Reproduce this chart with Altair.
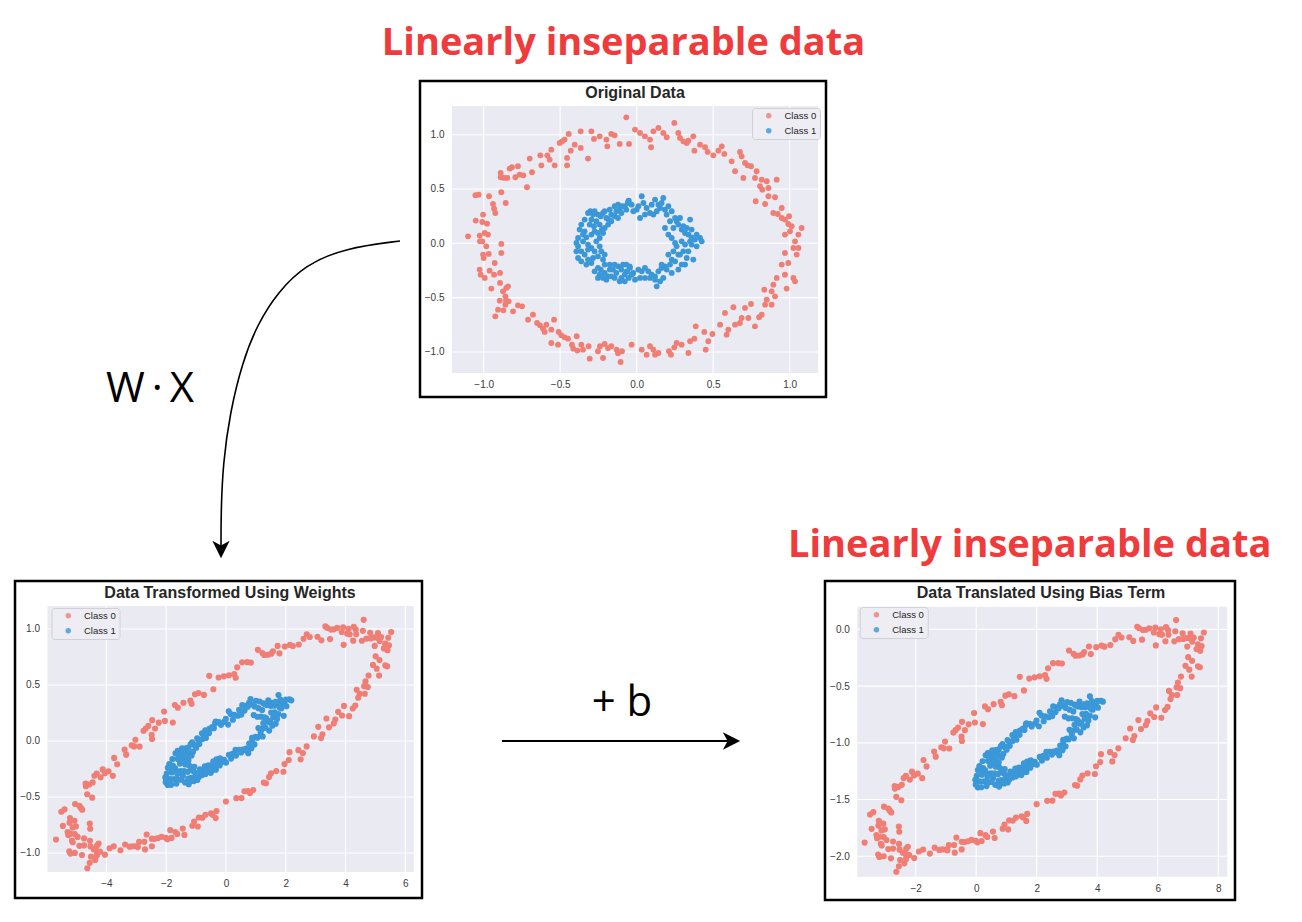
import altair as alt
import pandas as pd

# ---------------- data (original 2-D points) ----------------
OUTER_X = [-0.068, -0.111, -0.166, -0.144, -0.198, -0.192, -0.279, -0.296, -0.366, -0.444,
           -0.471, -0.488, -0.503, -0.366, -0.431, -0.318, -0.455, -0.455, -0.536, -0.569,
           -0.584, -0.630, -0.623, -0.699, -0.684, -0.717, -0.741, -0.765, -0.793, -0.815,
           -0.830, -0.845, -0.867, -0.889, -0.889, -0.885, -0.856, -0.965, -1.033, -1.054,
           -0.939, -0.932, -0.924, -1.052, -1.004, -1.009, -0.978, -1.102, -1.026, -0.993,
           -1.009, -1.024, -0.885, -1.004, -0.967, -1.000, -0.885, -1.026, -1.020, -0.961,
           -0.932, -0.950, -0.893, -0.893, -0.852, -0.841, -0.858, -0.854, -0.858, -0.837,
           -0.895, -0.906, -0.871, -0.924, -0.776, -0.749, -0.678, -0.651, -0.632, -0.590,
           -0.612, -0.601, -0.558, -0.540, -0.558, -0.510, -0.492, -0.471, -0.449, -0.392,
           -0.423, -0.414, -0.388, -0.362, -0.351, -0.314, -0.307, -0.240, -0.209, -0.187,
           -0.166, -0.131, -0.122, -0.105, -0.096,
           -0.011, 0.022, 0.054, 0.087, 0.094, 0.109, 0.142, -0.050, 0.196, 0.246,
           0.272, 0.283, 0.305, 0.327, 0.338, 0.370, 0.377, 0.447, 0.464, 0.501,
           0.534, 0.556, 0.573, 0.675, 0.686, 0.708, 0.725, 0.747, 0.784, 0.643,
           0.697, 0.773, 0.817, 0.850, 0.915, 0.806, 0.821, 0.861, 0.904, 0.778,
           0.839, 0.893, 0.922, 0.948, 0.948, 0.969, 0.991, 1.013, 0.996, 1.078,
           1.002, 1.035, 1.024, 1.057, 1.046, 0.969, 0.948, 0.991, 1.024, 1.035,
           0.980, 0.915, 0.893, 0.882, 0.904, 0.834, 0.850, 0.839, 0.817, 0.800,
           0.747, 0.773, 0.708, 0.686, 0.675, 0.643, 0.632, 0.577, 0.588, 0.599,
           0.545, 0.495, 0.442, 0.386, 0.377, 0.349, 0.451, 0.338, 0.261, 0.246,
           0.224, 0.211, 0.142, 0.120, 0.109, 0.087, 0.065, -0.033,
           -0.972, -0.983, -0.928, -0.993, -0.874, -0.808, -0.710, -0.514, -0.253, -0.220,
           -0.776, -0.558, -0.405, -0.242,
           0.174, 0.414, 0.621, 0.861, 0.969, 1.057, 0.969, 0.882, 0.730, 0.468,
           0.294, 0.033]
OUTER_Y = [1.160, 0.915, 1.007, 0.994, 0.955, 0.893, 0.961, 1.031, 1.031, 1.007,
           0.955, 0.939, 0.924, 0.878, 0.853, 0.780, 0.786, 0.718, 0.718, 0.770,
           0.810, 0.810, 0.718, 0.780, 0.654, 0.516, 0.626, 0.632, 0.608, 0.700,
           0.688, 0.602, 0.602, 0.648, 0.608, 0.470, 0.371, 0.433, 0.448, 0.442,
           0.362, 0.319, 0.279, 0.209, 0.264, 0.196, 0.181, 0.064, 0.071, 0.095,
           0.018, 0.018, -0.006, -0.104, -0.098, -0.135, -0.089, -0.242, -0.289, -0.252,
           -0.289, -0.417, -0.273, -0.365, -0.411, -0.396, -0.488, -0.528, -0.565, -0.534,
           -0.528, -0.611, -0.617, -0.672, -0.571, -0.580, -0.657, -0.734, -0.755, -0.749,
           -0.786, -0.816, -0.795, -0.703, -0.918, -0.816, -0.847, -0.866, -0.878, -0.856,
           -0.933, -0.970, -0.988, -0.933, -0.979, -0.948, -1.062, -0.948, -0.927, -0.964,
           -0.948, -0.979, -1.013, -1.093, -0.994,
           1.047, 1.016, 0.985, 0.955, 0.884, 1.031, 1.062, 0.915, 0.976, 1.108,
           1.016, 0.970, 0.939, 0.924, 0.945, 0.985, 0.853, 0.884, 0.841, 0.810,
           0.853, 0.893, 0.823, 0.841, 0.801, 0.740, 0.718, 0.709, 0.663, 0.663,
           0.602, 0.602, 0.586, 0.571, 0.586, 0.525, 0.494, 0.433, 0.424, 0.387,
           0.362, 0.279, 0.270, 0.325, 0.233, 0.218, 0.178, 0.157, 0.249, 0.141,
           0.110, 0.018, -0.043, -0.043, -0.104, -0.089, -0.196, -0.181, -0.319, -0.350,
           -0.417, -0.319, -0.381, -0.442, -0.488, -0.427, -0.519, -0.565, -0.657, -0.681,
           -0.559, -0.764, -0.595, -0.688, -0.734, -0.749, -0.589, -0.641, -0.841, -0.795,
           -0.749, -0.835, -0.816, -0.764, -0.878, -0.902, -0.979, -1.010, -0.918, -0.958,
           -1.025, -0.994, -1.010, -1.025, -0.979, -0.948, -1.025, -0.933,
           0.080, -0.028, -0.181, -0.319, -0.442, -0.626, -0.703, -0.933, -0.994, -1.056,
           0.709, 0.862, 0.908, 0.985,
           1.016, 0.908, 0.755, 0.509, 0.080, 0.080, -0.289, -0.565, -0.688, -0.902,
           -0.933, -0.979]

INNER_X = [-0.303, -0.318, -0.285, -0.253, -0.235, -0.220, -0.198, -0.166, -0.133, -0.111,
           -0.096, -0.078, -0.057, -0.052, -0.242, -0.264, -0.279, -0.307, -0.340, -0.351,
           -0.329, -0.296, -0.275, -0.253, -0.227, -0.209, -0.187, -0.166, -0.144, -0.122,
           -0.100, -0.394, -0.383, -0.362, -0.383, -0.340, -0.318, -0.296, -0.275, -0.253,
           -0.296, -0.318, -0.242, -0.264, -0.231, -0.220, -0.209, -0.176, -0.155, -0.133,
           -0.122, -0.100, -0.078, -0.061, -0.166, -0.144, -0.111, -0.187, -0.235, -0.253,
           -0.275, -0.209, -0.242, -0.220, -0.100, -0.068, -0.046, -0.242, -0.220,
           -0.054, -0.033, 0.000, 0.033, 0.044, 0.022, 0.054, 0.087, 0.109, 0.131,
           0.142, 0.153, 0.163, 0.185, 0.196, 0.218, 0.251, 0.272, 0.294, 0.316,
           0.338, 0.359, 0.381, 0.414, 0.425, 0.349, 0.305, 0.240, 0.185, 0.207,
           0.229, 0.251, 0.261, 0.240, 0.207, 0.229, 0.272, 0.305, 0.316, 0.294,
           0.251, 0.218, 0.185, 0.163, 0.142, 0.120, 0.098, 0.076, 0.054, 0.033,
           0.011, -0.022, -0.044, -0.065, 0.120, 0.087, 0.131, 0.163, 0.370, 0.338,
           0.359, 0.392,
           -0.362, -0.373, -0.340, -0.296, -0.275, -0.209, -0.176, -0.144, -0.122, -0.068,
           -0.183, -0.383, -0.351, -0.318, -0.394, -0.362, -0.329, -0.285, -0.253, -0.198,
           -0.176, -0.144, -0.089, -0.078, -0.052, -0.209,
           -0.022, 0.011, 0.065, 0.098, 0.120, 0.174, 0.207, 0.229, 0.261, 0.283,
           0.327, 0.359, 0.392, 0.349, 0.294, 0.283, 0.327, 0.316, 0.272, 0.229,
           0.196, 0.174, 0.153, 0.054, 0.022, -0.011, -0.033]
INNER_Y = [0.295, 0.279, 0.264, 0.264, 0.249, 0.279, 0.233, 0.264, 0.295, 0.310,
           0.341, 0.341, 0.371, 0.393, 0.172, 0.203, 0.157, 0.172, 0.110, 0.080,
           0.055, 0.080, 0.110, 0.095, 0.126, 0.141, 0.172, 0.203, 0.249, 0.233,
           0.279, 0.003, -0.028, -0.074, -0.135, -0.104, -0.150, -0.181, -0.074, -0.120,
           -0.043, -0.012, -0.028, 0.018, -0.074, -0.150, -0.196, -0.196, -0.242, -0.273,
           -0.212, -0.242, -0.289, -0.258, -0.304, -0.319, -0.350, -0.304, -0.242, -0.227,
           -0.258, -0.273, -0.289, -0.319, -0.319, -0.196, -0.212, 0.049, 0.095,
           0.387, 0.356, 0.310, 0.433, 0.371, 0.233, 0.264, 0.279, 0.264, 0.295,
           0.356, 0.325, 0.371, 0.310, 0.264, 0.203, 0.233, 0.172, 0.126, 0.095,
           0.080, 0.055, 0.034, 0.049, 0.018, 0.218, 0.157, 0.141, 0.141, 0.080,
           0.049, 0.003, -0.028, -0.074, -0.104, -0.150, -0.104, -0.074, -0.012, -0.196,
           -0.166, -0.196, -0.212, -0.227, -0.258, -0.304, -0.289, -0.258, -0.227, -0.258,
           -0.242, -0.273, -0.227, -0.258, -0.335, -0.319, -0.396, -0.196, -0.150, -0.074,
           -0.012, -0.028,
           0.172, 0.126, 0.218, 0.218, 0.295, 0.295, 0.310, 0.341, 0.356, 0.310,
           0.218, 0.049, 0.018, -0.058, -0.074, -0.166, -0.196, -0.135, -0.319, -0.335,
           -0.242, -0.196, -0.196, -0.350, -0.319, -0.104,
           0.295, 0.341, 0.325, 0.356, 0.402, 0.417, 0.341, 0.295, 0.203, 0.233,
           0.141, 0.126, 0.080, 0.018, 0.018, -0.104, -0.135, -0.196, -0.242, -0.273,
           -0.242, -0.319, -0.350, -0.319, -0.319, -0.335, -0.289]

CLASSES = ["Class 0", "Class 1"]
CLASS_COLORS = ["#F07E74", "#3A97D8"]

# weights and bias estimated from the transformed panels
W = [[5.15, -0.18], [0.83, 0.55]]
B = [2.0, -1.0]

# ---------------- layout (page pixel coordinates) ----------------
PAGE_W, PAGE_H = 1286, 906
OFF = 8

PANELS = [
    dict(title="Original Data", frame=(420, 81, 826, 397), plot=(452, 106, 818, 373),
         xdom=(-1.207, 1.185), ydom=(-1.194, 1.264),
         xticks=[-1.0, -0.5, 0.0, 0.5, 1.0], yticks=[-1.0, -0.5, 0.0, 0.5, 1.0],
         xfmt=".1f", yfmt=".1f", title_pos=(635, 98), legend=(752, 108), size=34, kind=0),
    dict(title="Data Transformed Using Weights", frame=(15, 581, 422, 898), plot=(47.5, 606, 413.7, 872),
         xdom=(-5.97, 6.28), ydom=(-1.17, 1.205),
         xticks=[-4, -2, 0, 2, 4, 6], yticks=[-1.0, -0.5, 0.0, 0.5, 1.0],
         xfmt="d", yfmt=".1f", title_pos=(230, 597.5), legend=(51.5, 608), size=38, kind=1),
    dict(title="Data Translated Using Bias Term", frame=(825, 581, 1235, 900), plot=(857.3, 606.7, 1227.3, 876.7),
         xdom=(-3.93, 8.30), ydom=(-2.18, 0.2),
         xticks=[-2, 0, 2, 4, 6, 8], yticks=[0.0, -0.5, -1.0, -1.5, -2.0],
         xfmt="d", yfmt=".1f", title_pos=(1041, 598), legend=(859.7, 607), size=38, kind=2),
]

RED_TITLES = ["Linearly inseparable data", "Linearly inseparable data"]
RED_POS = [(623.5, 54.5), (1029.7, 556.5)]
OP_TEXT = ["W\u2009·\u2009X", "+ b"]
OP_POS = [(150, 401.5), (622, 715.5)]
CURVE = [(400, 241), (345, 248), (305, 265), (278, 292), (258, 323), (242, 363),
         (230, 413), (223, 463), (221, 513), (221, 546)]
HARROW = dict(x0=502, x1=733, y=741)
HEADS_DOWN = [(221, 549.5)]
HEADS_RIGHT = [(731.5, 741)]
ARROW_SHAPE = "M 1 0 L -1 -1 L -0.45 0 L -1 1 Z"

LABEL_FONT = "Liberation Sans"

PX = alt.Scale(domain=[OFF, OFF + PAGE_W], range=[0, PAGE_W], nice=False, zero=False)
PY = alt.Scale(domain=[OFF, OFF + PAGE_H], range=[0, PAGE_H], nice=False, zero=False)


def sx(p):
    return alt.Scale(domain=list(p["xdom"]), range=[p["plot"][0] - OFF, p["plot"][2] - OFF],
                     nice=False, zero=False)


def sy(p):
    return alt.Scale(domain=list(p["ydom"]), range=[p["plot"][3] - OFF, p["plot"][1] - OFF],
                     nice=False, zero=False)


layers = []

# frames
frames = pd.DataFrame({
    "x0": [p["frame"][0] for p in PANELS], "x1": [p["frame"][2] for p in PANELS],
    "y0": [p["frame"][1] for p in PANELS], "y1": [p["frame"][3] for p in PANELS],
})
layers.append(
    alt.Chart(frames).mark_rect(fillOpacity=0, stroke="black", strokeWidth=2.5).encode(
        x=alt.X("x0:Q", scale=PX, axis=None), x2="x1:Q",
        y=alt.Y("y0:Q", scale=PY, axis=None), y2="y1:Q")
)

orig = pd.DataFrame({
    "x": OUTER_X + INNER_X,
    "y": OUTER_Y + INNER_Y,
    "cls": [CLASSES[0]] * len(OUTER_X) + [CLASSES[1]] * len(INNER_X),
})

for p in PANELS:
    bg = pd.DataFrame({"x0": [p["xdom"][0]], "x1": [p["xdom"][1]],
                       "y0": [p["ydom"][0]], "y1": [p["ydom"][1]]})
    layers.append(
        alt.Chart(bg).mark_rect(color="#EAEAF2").encode(
            x=alt.X("x0:Q", scale=sx(p), axis=None), x2="x1:Q",
            y=alt.Y("y0:Q", scale=sy(p), axis=None), y2="y1:Q")
    )
    gv = pd.DataFrame({"v": p["xticks"], "y0": p["ydom"][0], "y1": p["ydom"][1]})
    layers.append(
        alt.Chart(gv).mark_rule(color="white", strokeWidth=1.1).encode(
            x=alt.X("v:Q", scale=sx(p), axis=None),
            y=alt.Y("y0:Q", scale=sy(p), axis=None), y2="y1:Q")
    )
    gh = pd.DataFrame({"v": p["yticks"], "x0": p["xdom"][0], "x1": p["xdom"][1]})
    layers.append(
        alt.Chart(gh).mark_rule(color="white", strokeWidth=1.1).encode(
            y=alt.Y("v:Q", scale=sy(p), axis=None),
            x=alt.X("x0:Q", scale=sx(p), axis=None), x2="x1:Q")
    )

    base = alt.Chart(orig)
    if p["kind"] == 0:
        base = base.transform_calculate(px="datum.x", py="datum.y")
    elif p["kind"] == 1:
        base = base.transform_calculate(
            px=f"{W[0][0]}*datum.x + ({W[0][1]})*datum.y",
            py=f"{W[1][0]}*datum.x + ({W[1][1]})*datum.y")
    else:
        base = base.transform_calculate(
            px=f"{W[0][0]}*datum.x + ({W[0][1]})*datum.y + ({B[0]})",
            py=f"{W[1][0]}*datum.x + ({W[1][1]})*datum.y + ({B[1]})")

    xaxis = alt.Axis(orient="bottom", offset=(p["plot"][3] - OFF) - PAGE_H,
                     values=p["xticks"], format=p["xfmt"], ticks=False, tickSize=0,
                     domain=False, grid=False, labelFlush=False, labelOverlap=False,
                     labelPadding=6.5, labelFontSize=10, labelFont=LABEL_FONT,
                     labelColor="#3a3a3a")
    yaxis = alt.Axis(orient="left", offset=-(p["plot"][0] - OFF),
                     values=p["yticks"], format=p["yfmt"], ticks=False, tickSize=0,
                     domain=False, grid=False, labelFlush=False, labelOverlap=False,
                     labelPadding=8, labelFontSize=10, labelFont=LABEL_FONT,
                     labelColor="#3a3a3a")
    legend = alt.Legend(orient="none", legendX=p["legend"][0] - OFF, legendY=p["legend"][1] - OFF,
                        title=None, symbolType="circle", symbolSize=30, symbolStrokeWidth=0,
                        symbolOpacity=0.8, symbolOffset=9, labelOffset=11, padding=3,
                        rowPadding=4, labelFontSize=9.5, labelFont=LABEL_FONT,
                        labelColor="#262626", fillColor="#EDEDF3", strokeColor="#D0D0D8",
                        cornerRadius=3)
    layers.append(
        base.mark_circle(size=p["size"], opacity=1).encode(
            x=alt.X("px:Q", scale=sx(p), axis=xaxis, title=None),
            y=alt.Y("py:Q", scale=sy(p), axis=yaxis, title=None),
            color=alt.Color("cls:N", scale=alt.Scale(domain=CLASSES, range=CLASS_COLORS),
                            legend=legend),
        )
    )

# panel titles
ptitles = pd.DataFrame({"t": [p["title"] for p in PANELS],
                        "x": [p["title_pos"][0] for p in PANELS],
                        "y": [p["title_pos"][1] for p in PANELS]})
layers.append(
    alt.Chart(ptitles).mark_text(font=LABEL_FONT, fontSize=16, fontWeight="bold",
                                 color="#262626", align="center", baseline="alphabetic").encode(
        x=alt.X("x:Q", scale=PX, axis=None), y=alt.Y("y:Q", scale=PY, axis=None), text="t:N")
)

# red headline annotations
red = pd.DataFrame({"t": RED_TITLES, "x": [q[0] for q in RED_POS], "y": [q[1] for q in RED_POS]})
layers.append(
    alt.Chart(red).mark_text(font="Open Sans", fontSize=38, fontWeight="bold",
                             color="#EF3B3B", align="center", baseline="alphabetic").encode(
        x=alt.X("x:Q", scale=PX, axis=None), y=alt.Y("y:Q", scale=PY, axis=None), text="t:N")
)

# operation labels
ops = pd.DataFrame({"t": OP_TEXT, "x": [q[0] for q in OP_POS], "y": [q[1] for q in OP_POS]})
layers.append(
    alt.Chart(ops).mark_text(font="Open Sans", fontSize=42, color="black",
                             align="center", baseline="alphabetic").encode(
        x=alt.X("x:Q", scale=PX, axis=None), y=alt.Y("y:Q", scale=PY, axis=None), text="t:N")
)

# curved arrow
curve = pd.DataFrame({"i": list(range(len(CURVE))), "x": [c[0] for c in CURVE], "y": [c[1] for c in CURVE]})
layers.append(
    alt.Chart(curve).mark_line(color="black", strokeWidth=1.6, interpolate="basis").encode(
        x=alt.X("x:Q", scale=PX, axis=None), y=alt.Y("y:Q", scale=PY, axis=None), order="i:Q")
)
hd = pd.DataFrame({"x": [h[0] for h in HEADS_DOWN], "y": [h[1] for h in HEADS_DOWN]})
layers.append(
    alt.Chart(hd).mark_point(shape=ARROW_SHAPE, filled=True, color="black", size=300,
                             opacity=1, angle=90, strokeWidth=0).encode(
        x=alt.X("x:Q", scale=PX, axis=None), y=alt.Y("y:Q", scale=PY, axis=None))
)

# straight arrow
ha = pd.DataFrame({"x0": [HARROW["x0"]], "x1": [HARROW["x1"]], "y": [HARROW["y"]]})
layers.append(
    alt.Chart(ha).mark_rule(color="black", strokeWidth=1.8).encode(
        x=alt.X("x0:Q", scale=PX, axis=None), x2="x1:Q", y=alt.Y("y:Q", scale=PY, axis=None))
)
hr = pd.DataFrame({"x": [h[0] for h in HEADS_RIGHT], "y": [h[1] for h in HEADS_RIGHT]})
layers.append(
    alt.Chart(hr).mark_point(shape=ARROW_SHAPE, filled=True, color="black", size=300,
                             opacity=1, strokeWidth=0).encode(
        x=alt.X("x:Q", scale=PX, axis=None), y=alt.Y("y:Q", scale=PY, axis=None))
)

chart = alt.layer(*layers).resolve_scale(
    x="independent", y="independent", color="independent"
).properties(
    width=PAGE_W, height=PAGE_H, autosize=alt.AutoSizeParams(type="none"), padding=0,
    background="white"
).configure_view(strokeWidth=0)

chart.save("out.html", embed_options={"renderer": "svg", "actions": False})
